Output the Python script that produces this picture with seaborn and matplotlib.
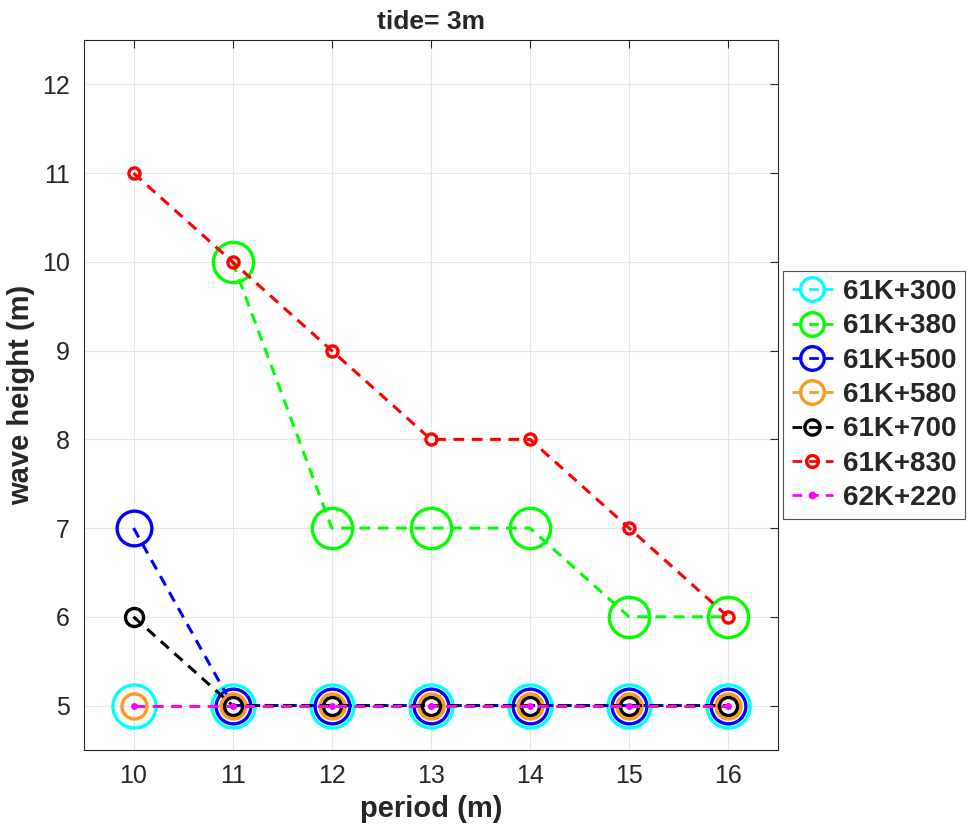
import matplotlib
matplotlib.use('Agg')
import matplotlib.pyplot as plt
import numpy as np
import pandas as pd
import seaborn as sns

# data
period = [10, 11, 12, 13, 14, 15, 16]
h_61k300 = [5, 5, 5, 5, 5, 5, 5]
h_61k380 = [np.nan, 10, 7, 7, 7, 6, 6]
h_61k500 = [7, 5, 5, 5, 5, 5, 5]
h_61k580 = [5, 5, 5, 5, 5, 5, 5]
h_61k700 = [6, 5, 5, 5, 5, 5, 5]
h_61k830 = [11, 10, 9, 8, 8, 7, 6]
h_62k220 = [5, 5, 5, 5, 5, 5, 5]

labels = ['61K+300', '61K+380', '61K+500', '61K+580', '61K+700', '61K+830', '62K+220']
series = [h_61k300, h_61k380, h_61k500, h_61k580, h_61k700, h_61k830, h_62k220]
colors = ['#00FFFF', '#00FF00', '#0000FF', '#FF9A1E', '#000000', '#FF0000', '#FF00FF']
msizes = [31, 29, 25, 18, 13, 8, 4]
legend_ms = [17, 17, 17, 17, 11, 8.5, 4.5]

sns.set_style('white')
plt.rcParams['font.family'] = ['Liberation Sans', 'DejaVu Sans']

fig = plt.figure(figsize=(9.71, 8.36), dpi=100)
ax = fig.add_axes([0.0865, 0.103, 0.7145, 0.849])

for lab, vals, col, ms in zip(labels, series, colors, msizes):
    df = pd.DataFrame({'period': period, 'height': vals}).dropna()
    filled = lab == '62K+220'
    sns.lineplot(data=df, x='period', y='height', ax=ax, color=col, label=lab,
                 linestyle=(0, (3.5, 2.5)), linewidth=2.2, marker='o', markersize=ms,
                 markeredgewidth=2.4 if not filled else 1,
                 markerfacecolor=col if filled else 'none', markeredgecolor=col)

ax.set_xlim(9.5, 16.5)
ax.set_ylim(4.5, 12.5)
ax.set_xticks(period)
ax.set_yticks(range(5, 13))
ax.grid(True, color='#e6e6e6', linewidth=0.8)
ax.tick_params(direction='in', length=6, width=0.8, labelsize=18, colors='#262626',
               top=True, right=True, pad=10)
for s in ax.spines.values():
    s.set_color('#262626')
    s.set_linewidth(0.8)

ax.set_xlabel('period (m)', fontsize=21, fontweight='bold', color='#262626', labelpad=5)
ax.set_ylabel('wave height (m)', fontsize=21, fontweight='bold', color='#262626', labelpad=5)
ax.set_title('tide= 3m', fontsize=19, fontweight='bold', pad=8)

leg = ax.legend(loc='center left', bbox_to_anchor=(1.008, 0.5), frameon=True,
                fancybox=False, edgecolor='#262626',
                prop={'weight': 'bold', 'size': 20}, handlelength=1.5,
                handletextpad=0.35, borderpad=0.3, labelspacing=0.3, borderaxespad=0)
leg.get_frame().set_linewidth(0.8)
for h, ms in zip(leg.legend_handles, legend_ms):
    h.set_markersize(ms)
    h.set_linewidth(2)

fig.savefig('out.png', dpi=100)
